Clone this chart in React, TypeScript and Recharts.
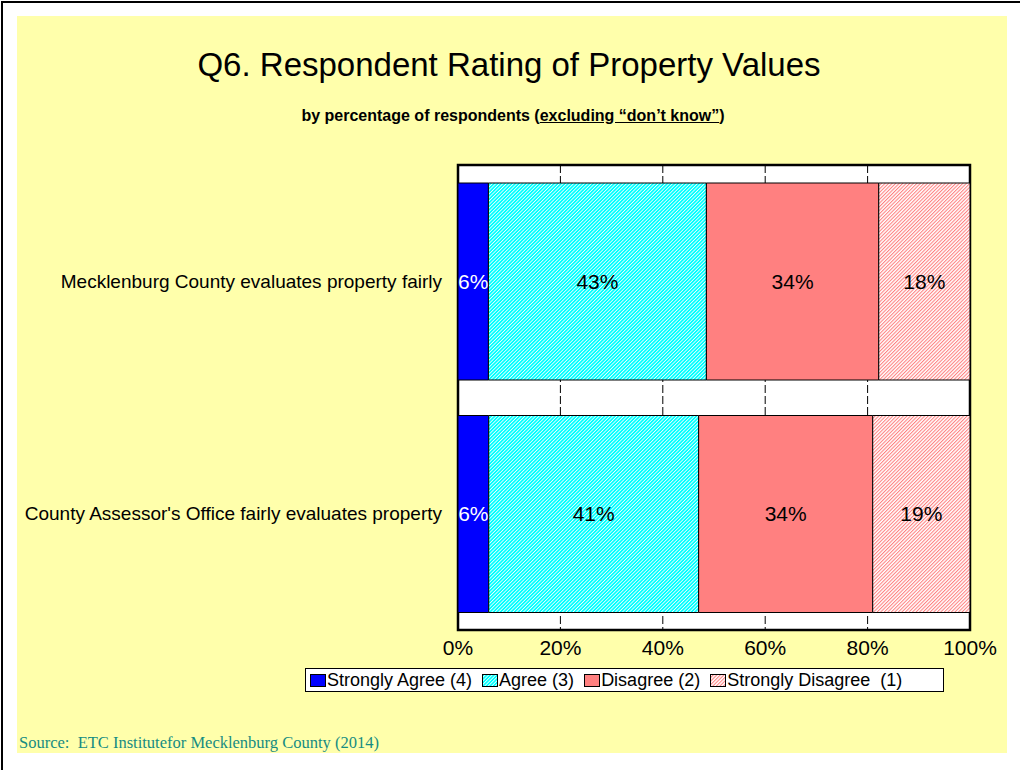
import React from 'react';
import { BarChart, Bar, XAxis, YAxis, CartesianGrid, ReferenceArea, LabelList } from 'recharts';

const statements = [
  'Mecklenburg County evaluates property fairly',
  "County Assessor's Office fairly evaluates property",
];
const stronglyAgree = [6, 6];
const agree = [43, 41];
const disagree = [34, 34];
const stronglyDisagree = [18, 19];
const seriesNames = ['Strongly Agree (4)', 'Agree (3)', 'Disagree (2)', 'Strongly Disagree  (1)'];
const xTicks = [0, 0.2, 0.4, 0.6, 0.8, 1];

const fonts = '"Liberation Sans", Arial, sans-serif';

const data = statements.map((name, i) => ({
  name,
  sa: stronglyAgree[i],
  a: agree[i],
  d: disagree[i],
  sd: stronglyDisagree[i],
}));

const series = [
  { key: 'sa', fill: '#0000FF', label: '#FFFFFF' },
  { key: 'a', fill: 'url(#agreeHatch)', label: '#000000' },
  { key: 'd', fill: '#FF8080', label: '#000000' },
  { key: 'sd', fill: 'url(#sdHatch)', label: '#000000' },
];

const Patterns = () => (
  <svg width={0} height={0} style={{ position: 'absolute' }}>
    <defs>
      <pattern id="agreeHatch" patternUnits="userSpaceOnUse" width={2.5} height={2.5} patternTransform="rotate(45)">
        <rect width={2.5} height={2.5} fill="#00FFFF" />
        <line x1={0.4} y1={0} x2={0.4} y2={2.5} stroke="#FFFFFF" strokeWidth={0.8} />
      </pattern>
      <pattern id="sdHatch" patternUnits="userSpaceOnUse" width={2.5} height={2.5} patternTransform="rotate(45)">
        <rect width={2.5} height={2.5} fill="#FFFFFF" />
        <line x1={0.5} y1={0} x2={0.5} y2={2.5} stroke="#FF8080" strokeWidth={1.1} />
      </pattern>
    </defs>
  </svg>
);

const Swatch = ({ fill }: { fill: string }) => (
  <svg width={16} height={13} style={{ marginRight: 1 }}>
    <rect x={0.5} y={0.5} width={15} height={12} fill={fill} stroke="#000" />
  </svg>
);

export default function App() {
  return (
    <div style={{ position: 'absolute', left: 0, top: 0, width: 1020, height: 770, background: '#fff', fontFamily: fonts }}>
      <Patterns />
      <div style={{ position: 'absolute', left: 1, top: 1, width: 1019, height: 769, borderLeft: '2px solid #000', borderTop: '2px solid #000' }} />
      <div style={{ position: 'absolute', left: 17, top: 16, width: 990, height: 737, background: '#FFFFAB' }} />

      <div style={{ position: 'absolute', left: 0, width: 1018, top: 46, textAlign: 'center', fontSize: 33, color: '#000' }}>
        Q6. Respondent Rating of Property Values
      </div>
      <div style={{ position: 'absolute', left: 0, width: 1026, top: 107, textAlign: 'center', fontSize: 16, fontWeight: 'bold', color: '#000' }}>
        by percentage of respondents (<span style={{ textDecoration: 'underline' }}>excluding “don’t know”</span>)
      </div>

      <div style={{ position: 'absolute', left: 0, top: 0 }}>
        <BarChart
          width={1020}
          height={770}
          data={data}
          layout="vertical"
          stackOffset="expand"
          barCategoryGap={18}
          margin={{ top: 165, right: 50, bottom: 110, left: 0 }}
        >
          <CartesianGrid horizontal={false} vertical stroke="#000" strokeDasharray="8 3" fill="#FFFFFF" />
          <XAxis
            type="number"
            domain={[0, 1]}
            ticks={xTicks}
            tickFormatter={(v) => `${Math.round(v * 100)}%`}
            axisLine={false}
            tickLine={false}
            tickSize={0}
            tickMargin={10}
            height={30}
            interval={0}
            tick={{ fill: '#000', fontSize: 21, fontFamily: fonts }}
          />
          <YAxis
            type="category"
            dataKey="name"
            width={458}
            axisLine={false}
            tickLine={false}
            tickSize={0}
            tickMargin={16}
            tick={{ fill: '#000', fontSize: 19, fontFamily: fonts }}
          />
          {series.map((s, i) => (
            <Bar key={s.key} dataKey={s.key} name={seriesNames[i]} stackId="q" fill={s.fill} stroke="#000" strokeWidth={1} isAnimationActive={false}>
              <LabelList dataKey={s.key} position="center" formatter={(v: any) => `${v}%`} fill={s.label} fontSize={21} fontFamily={fonts} />
            </Bar>
          ))}
          <ReferenceArea x1={0} x2={1} fill="none" stroke="#000" strokeWidth={2.5} />
        </BarChart>
      </div>

      <div
        style={{
          position: 'absolute', left: 305, top: 668, width: 633, height: 22,
          background: '#fff', border: '1px solid #000', display: 'flex', alignItems: 'center',
          paddingLeft: 4, fontSize: 18, color: '#000', whiteSpace: 'pre', lineHeight: '22px',
        }}
      >
        {series.map((s, i) => (
          <span key={s.key} style={{ display: 'flex', alignItems: 'center', marginRight: 10 }}>
            <Swatch fill={s.fill} />
            {seriesNames[i]}
          </span>
        ))}
      </div>

      <div style={{ position: 'absolute', left: 19, top: 733, fontFamily: '"Liberation Serif", "Times New Roman", serif', fontSize: 16.5, color: '#168C82', whiteSpace: 'pre' }}>
        Source:  ETC Institutefor Mecklenburg County (2014)
      </div>
    </div>
  );
}
